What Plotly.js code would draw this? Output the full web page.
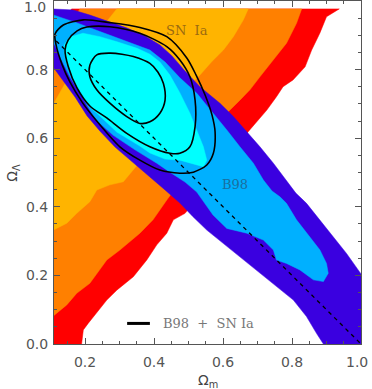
<!DOCTYPE html>
<html><head><meta charset="utf-8">
<script src="https://cdn.plot.ly/plotly-3.0.1.min.js"></script>
<style>html,body{margin:0;padding:0;background:#fff;}#chart{width:372px;height:389px;}</style>
</head><body><div id="chart"></div>
<script>
// ---- SN Ia confidence regions (vertices: Omega_m, Omega_Lambda) ----
const snOuterOm = [0.10,0.190,0.190,0.195,0.209,0.234,0.263,0.292,0.340,0.379,0.408,0.437,0.456,0.490,0.533,0.591,0.673,0.702,0.727,0.755,0.774,0.803,0.838,0.857,0.881,0.900,0.937,0.161,0.10];
const snOuterOl = [-0.01,-0.01,0.000,0.041,0.060,0.090,0.128,0.157,0.196,0.245,0.289,0.323,0.362,0.381,0.434,0.507,0.619,0.653,0.682,0.721,0.750,0.770,0.808,0.857,0.907,0.954,0.977,0.977,0.90];
const snMidOm = [0.10,0.147,0.176,0.214,0.263,0.301,0.359,0.397,0.437,0.490,0.548,0.615,0.649,0.678,0.707,0.746,0.784,0.813,0.828,0.185,0.10];
const snMidOl = [0.075,0.114,0.148,0.177,0.245,0.274,0.323,0.362,0.420,0.493,0.580,0.677,0.711,0.741,0.779,0.828,0.877,0.935,0.977,0.977,0.84];
const snInnerOm = [0.10,0.147,0.176,0.214,0.234,0.272,0.311,0.388,0.475,0.514,0.533,0.567,0.601,0.630,0.659,0.673,0.292,0.267,0.214,0.139,0.122,0.10];
const snInnerOl = [0.328,0.352,0.381,0.415,0.449,0.464,0.473,0.566,0.703,0.765,0.784,0.823,0.857,0.896,0.945,0.977,0.977,0.945,0.886,0.755,0.723,0.685];

// ---- B98 (CMB) confidence regions ----
const b98OuterOm = [0.10,0.165,0.214,0.264,0.322,0.374,0.417,0.452,0.487,0.533,0.591,0.630,0.669,0.707,0.746,0.784,0.811,0.842,0.881,0.920,0.958,1.01,1.01,0.885,0.891,0.871,0.842,0.804,0.756,0.707,0.649,0.601,0.553,0.513,0.475,0.432,0.388,0.339,0.287,0.243,0.206,0.171,0.136,0.10];
const b98OuterOl = [0.977,0.974,0.959,0.942,0.921,0.898,0.872,0.840,0.799,0.750,0.702,0.663,0.619,0.575,0.527,0.478,0.440,0.410,0.362,0.313,0.264,0.19,-0.01,-0.01,0.000,0.031,0.080,0.128,0.167,0.206,0.255,0.294,0.332,0.371,0.411,0.449,0.487,0.528,0.574,0.621,0.665,0.720,0.770,0.818];
const b98MidOm = [0.10,0.177,0.243,0.310,0.388,0.432,0.475,0.524,0.572,0.611,0.649,0.688,0.717,0.742,0.765,0.784,0.813,0.852,0.881,0.900,0.905,0.891,0.862,0.823,0.784,0.755,0.746,0.717,0.669,0.611,0.571,0.524,0.490,0.446,0.408,0.345,0.281,0.235,0.214,0.185,0.156,0.127,0.10];
const b98MidOl = [0.962,0.936,0.911,0.886,0.857,0.822,0.776,0.731,0.673,0.624,0.575,0.527,0.478,0.446,0.429,0.410,0.362,0.313,0.274,0.235,0.206,0.182,0.187,0.216,0.235,0.245,0.274,0.303,0.323,0.337,0.376,0.443,0.472,0.501,0.527,0.566,0.609,0.650,0.682,0.731,0.779,0.838,0.90];
const b98InnerOm = [0.139,0.156,0.194,0.243,0.293,0.351,0.388,0.417,0.446,0.475,0.504,0.524,0.543,0.553,0.543,0.514,0.475,0.432,0.388,0.359,0.292,0.243,0.214,0.195,0.166,0.147,0.139];
const b98InnerOl = [0.872,0.895,0.906,0.896,0.881,0.862,0.845,0.822,0.784,0.732,0.673,0.624,0.575,0.536,0.517,0.525,0.536,0.539,0.557,0.577,0.618,0.665,0.691,0.723,0.770,0.816,0.851];

// ---- Combined B98 + SN Ia contours ----
const combInnerOm = [0.234,0.272,0.307,0.340,0.388,0.411,0.427,0.432,0.417,0.388,0.359,0.321,0.272,0.234,0.214,0.214,0.234];
const combInnerOl = [0.843,0.848,0.845,0.838,0.818,0.793,0.760,0.711,0.673,0.648,0.643,0.663,0.702,0.741,0.779,0.813,0.843];
const combMidOm = [0.151,0.177,0.205,0.272,0.359,0.437,0.475,0.504,0.519,0.519,0.504,0.475,0.446,0.388,0.321,0.263,0.214,0.177,0.151,0.142,0.151];
const combMidOl = [0.886,0.913,0.924,0.925,0.906,0.867,0.828,0.779,0.711,0.634,0.575,0.556,0.556,0.575,0.614,0.659,0.694,0.746,0.810,0.857,0.886];
const combOuterOm = [0.113,0.137,0.195,0.272,0.359,0.437,0.495,0.522,0.548,0.568,0.577,0.572,0.553,0.514,0.475,0.417,0.359,0.301,0.234,0.191,0.156,0.133,0.116,0.113];
const combOuterOl = [0.904,0.930,0.945,0.937,0.923,0.896,0.834,0.784,0.726,0.668,0.618,0.556,0.522,0.501,0.498,0.507,0.536,0.575,0.650,0.706,0.764,0.816,0.872,0.904];

// ---- Flat universe line ----
const flatOm = [0.1, 1.0];
const flatOl = [0.9, 0.0];

// ---- Axis ticks ----
const xTickVals = [0.2,0.4,0.6,0.8];
const xTickText = ['0.2','0.4','0.6','0.8'];
const yTickVals = [0.0,0.2,0.4,0.6,0.8];
const yTickText = ['0.0','0.2','0.4','0.6','0.8'];

function region(x, y, color) {
  return {x: x, y: y, type: 'scatter', mode: 'lines', fill: 'toself',
    fillcolor: color, line: {width: 0.5, color: color}, hoverinfo: 'skip', showlegend: false};
}
function contour(x, y) {
  return {x: x, y: y, type: 'scatter', mode: 'lines',
    line: {width: 1.6, color: '#000', shape: 'spline', smoothing: 0.8}, hoverinfo: 'skip', showlegend: false};
}

const traces = [
  region(snOuterOm, snOuterOl, '#FF0000'),
  region(snMidOm, snMidOl, '#FF8000'),
  region(snInnerOm, snInnerOl, '#FFB400'),
  region(b98OuterOm, b98OuterOl, '#3A00E0'),
  region(b98MidOm, b98MidOl, '#00B0FF'),
  region(b98InnerOm, b98InnerOl, '#00FFFF'),
  contour(combOuterOm, combOuterOl),
  contour(combMidOm, combMidOl),
  contour(combInnerOm, combInnerOl),
  {x: flatOm, y: flatOl, type: 'scatter', mode: 'lines',
   line: {width: 1.3, color: '#000', dash: '4px,4px'}, hoverinfo: 'skip', showlegend: false}
];

const tickFont = {family: 'DejaVu Sans', size: 14, color: '#555'};
const axisCommon = {
  showgrid: false, zeroline: false, showline: true, linecolor: '#555', linewidth: 1,
  mirror: 'ticks', ticks: 'inside', ticklen: 6, tickwidth: 1, tickcolor: '#555',
  tickfont: tickFont, fixedrange: true
};
const minorTicks = {dtick: 0.05, tick0: 0, ticks: 'inside', ticklen: 3, tickwidth: 1, tickcolor: '#555', showgrid: false};

const layout = {
  width: 372, height: 389,
  margin: {l: 54, r: 11, t: 1, b: 45},
  paper_bgcolor: '#fff', plot_bgcolor: '#fff',
  showlegend: false,
  xaxis: Object.assign({}, axisCommon, {range: [0.11, 1.0], tickmode: 'array', tickvals: xTickVals, ticktext: xTickText,
    ticklabelstandoff: 5, minor: minorTicks}),
  yaxis: Object.assign({}, axisCommon, {range: [0, 1.0], tickmode: 'array', tickvals: yTickVals, ticktext: yTickText,
    ticklabelstandoff: 2, minor: minorTicks}),
  shapes: [
    {type: 'line', xref: 'x', yref: 'y', x0: 0.322, x1: 0.388, y0: 0.060, y1: 0.060,
     line: {color: '#000', width: 3}}
  ],
  annotations: [
    {xref: 'x', yref: 'y', x: 0.496, y: 0.913, text: 'SN\u00A0\u00A0Ia', showarrow: false,
     font: {family: 'DejaVu Serif', size: 13, color: '#9b6b10'}},
    {xref: 'x', yref: 'y', x: 0.636, y: 0.464, text: 'B98', showarrow: false,
     font: {family: 'DejaVu Serif', size: 13, color: '#1a6e9e'}},
    {xref: 'x', yref: 'y', x: 0.420, y: 0.060, xanchor: 'left', text: 'B98\u00A0\u00A0+\u00A0\u00A0SN\u00A0Ia', showarrow: false,
     font: {family: 'DejaVu Serif', size: 13, color: '#777'}},
    {xref: 'paper', yref: 'paper', x: 0.5, y: -0.108, yanchor: 'middle', text: 'Ω<sub>m</sub>', showarrow: false,
     font: {family: 'DejaVu Sans', size: 14, color: '#444'}},
    {xref: 'paper', yref: 'paper', x: -0.172, y: 0.5, textangle: -90, text: 'Ω<sub>Λ</sub>', showarrow: false,
     font: {family: 'DejaVu Sans', size: 14, color: '#444'}},
    {xref: 'paper', yref: 'paper', x: -0.02, y: 0.982, xanchor: 'right', yanchor: 'middle', text: '1.0', showarrow: false,
     font: tickFont},
    {xref: 'paper', yref: 'paper', x: 0.986, y: -0.0525, xanchor: 'center', yanchor: 'middle', text: '1.0', showarrow: false,
     font: tickFont}
  ]
};

Plotly.newPlot('chart', traces, layout, {staticPlot: true, displayModeBar: false});
</script>
</body></html>
